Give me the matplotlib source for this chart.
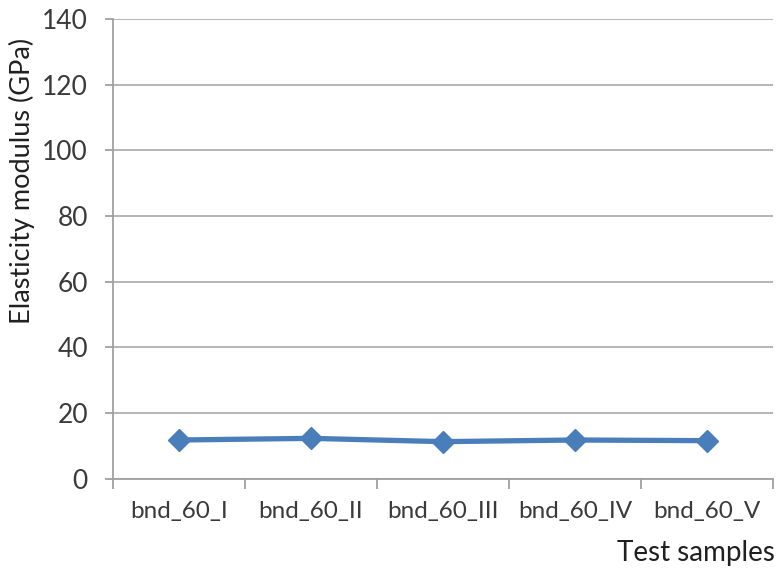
import numpy as np
import matplotlib.pyplot as plt
from matplotlib.ticker import FixedLocator, NullFormatter

samples = ["bnd_60_I", "bnd_60_II", "bnd_60_III", "bnd_60_IV", "bnd_60_V"]
modulus_gpa = [11.8, 12.3, 11.3, 11.8, 11.6]
y_ticks = [0, 20, 40, 60, 80, 100, 120, 140]

plt.rcParams["font.family"] = ["Lato", "DejaVu Sans"]

fig = plt.figure(figsize=(7.79, 5.72), dpi=100)
ax = fig.add_axes([0.145, 0.163, 0.847, 0.804])

x = np.arange(len(samples))
ax.plot(x, modulus_gpa, color="#4a7ebb", linewidth=3.8, marker="D",
        markersize=11, markerfacecolor="#4a7ebb", markeredgecolor="#4a7ebb",
        zorder=3)

ax.set_xlim(-0.5, len(samples) - 0.5)
ax.set_ylim(0, 140)
ax.set_yticks(y_ticks)
ax.grid(axis="y", color="#b0b0b0", linewidth=1.3)

# category boundaries carry the tick marks, centres carry the labels
ax.xaxis.set_major_locator(FixedLocator(np.arange(len(samples) + 1) - 0.5))
ax.xaxis.set_major_formatter(NullFormatter())
ax.xaxis.set_minor_locator(FixedLocator(x))
ax.set_xticklabels(samples, minor=True)
ax.tick_params(axis="x", which="major", length=7, width=1.3, color="#a0a0a0")
ax.tick_params(axis="x", which="minor", length=0, pad=16, labelsize=17.5,
               labelcolor="#3a3a3a")
ax.tick_params(axis="y", length=6, width=1.3, color="#a0a0a0", labelsize=19,
               labelcolor="#3a3a3a", pad=12)

for side in ("top", "right"):
    ax.spines[side].set_visible(False)
for side in ("left", "bottom"):
    ax.spines[side].set_color("#a0a0a0")
    ax.spines[side].set_linewidth(1.3)

fig.text(0.028, 0.684, "Elasticity modulus (GPa)", rotation=90, ha="center",
         va="center", fontsize=19.5, color="#202020")
fig.text(0.995, 0.033, "Test samples", ha="right", va="center", fontsize=20,
         color="#202020")

fig.savefig("out.png", dpi=100)
